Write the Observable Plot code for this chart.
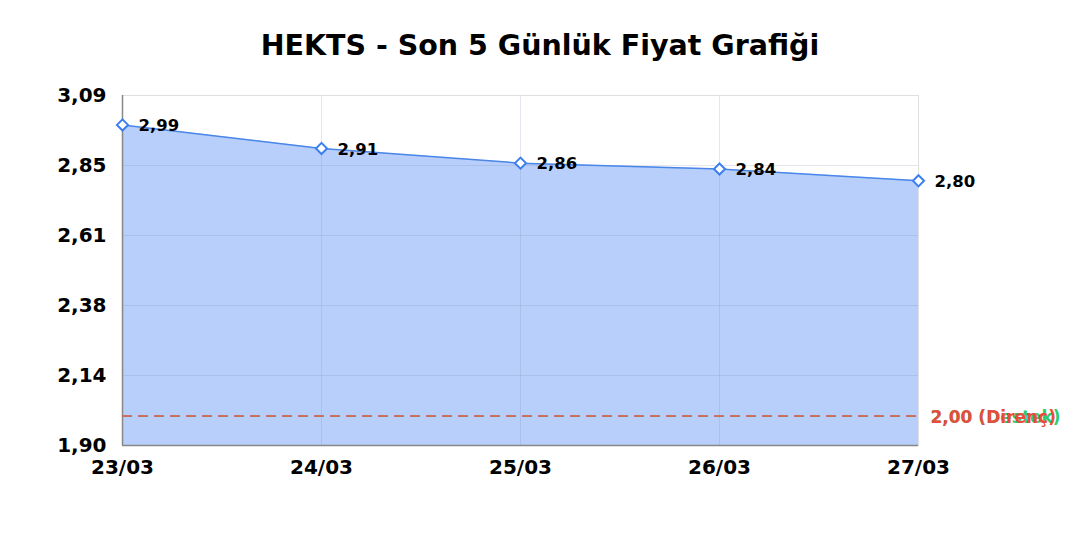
<!DOCTYPE html>
<html><head><meta charset="utf-8">
<script src="https://cdn.jsdelivr.net/npm/d3@7"></script>
<script src="https://cdn.jsdelivr.net/npm/@observablehq/plot@0.6"></script>
<style>
body{margin:0;background:#fff;font-family:"DejaVu Sans",sans-serif;}
#title{height:80px;display:flex;align-items:center;justify-content:center;font-weight:bold;font-size:28.5px;color:#000;padding-top:10px;box-sizing:border-box;}
</style></head><body>
<div id="title">HEKTS - Son 5 Günlük Fiyat Grafiği</div>
<div id="chart"></div>
<script>
const dates = ["23/03","24/03","25/03","26/03","27/03"];
const prices = [2.99, 2.91, 2.86, 2.84, 2.80];
const yTicks = [1.90, 2.138, 2.376, 2.614, 2.852, 3.09];
const supportLevel = 2.00;
const resistanceLevel = 2.00;

const data = dates.map((d,i)=>({date:d, price:prices[i]}));
const fmt = v => v.toFixed(2).replace(".", ",");
const yMin = 1.90, yMax = 3.09;

const plot = Plot.plot({
  width:1080, height:460,
  marginLeft:122, marginRight:162, marginTop:15, marginBottom:95,
  style:{fontFamily:"DejaVu Sans, sans-serif", fontWeight:"bold", fontSize:"20px", color:"#000"},
  x:{type:"point", domain:dates, padding:0, label:null, tickSize:0, tickPadding:14},
  y:{domain:[yMin,yMax], ticks:yTicks, tickFormat:fmt, label:null, tickSize:0, tickPadding:16},
  marks:[
    Plot.areaY(data,{x:"date", y1:yMin, y2:"price", fill:"#b7cffa"}),
    Plot.gridX(dates,{stroke:"#6a7f9f", strokeOpacity:0.18, strokeWidth:1}),
    Plot.gridY(yTicks,{stroke:"#6a7f9f", strokeOpacity:0.18, strokeWidth:1}),
    Plot.frame({stroke:"#e0e0e0"}),
    Plot.ruleY([yMin],{stroke:"#888", strokeWidth:1.5}),
    Plot.ruleX([dates[0]],{stroke:"#888", strokeWidth:1.5}),
    Plot.ruleY([supportLevel],{stroke:"#2ecc71", strokeDasharray:"10,6", strokeWidth:1.2}),
    Plot.ruleY([resistanceLevel],{stroke:"#ee5050", strokeDasharray:"10,6", strokeWidth:1.5}),
    Plot.text([supportLevel],{x:()=>dates[4], y:d=>d, text:d=>fmt(d)+" (Destek)", fill:"#2ecc71", textAnchor:"start", dx:12, dy:1, fontSize:17, fontWeight:"bold"}),
    Plot.text([resistanceLevel],{x:()=>dates[4], y:d=>d, text:d=>fmt(d)+" (Direnç)", fill:"#e74c3c", textAnchor:"start", dx:12, dy:1, fontSize:17, fontWeight:"bold"}),
    Plot.line(data,{x:"date", y:"price", stroke:"#4a86e8", strokeWidth:1.5}),
    Plot.dot(data,{x:"date", y:"price", symbol:"diamond2", r:5, stroke:"#3b7ff0", fill:"white", strokeWidth:2}),
    Plot.text(data,{x:"date", y:"price", text:d=>fmt(d.price), textAnchor:"start", dx:16, dy:1, fontSize:16.5, fontWeight:"bold", fill:"#000"})
  ]
});
document.getElementById("chart").appendChild(plot);
</script>
</body></html>
